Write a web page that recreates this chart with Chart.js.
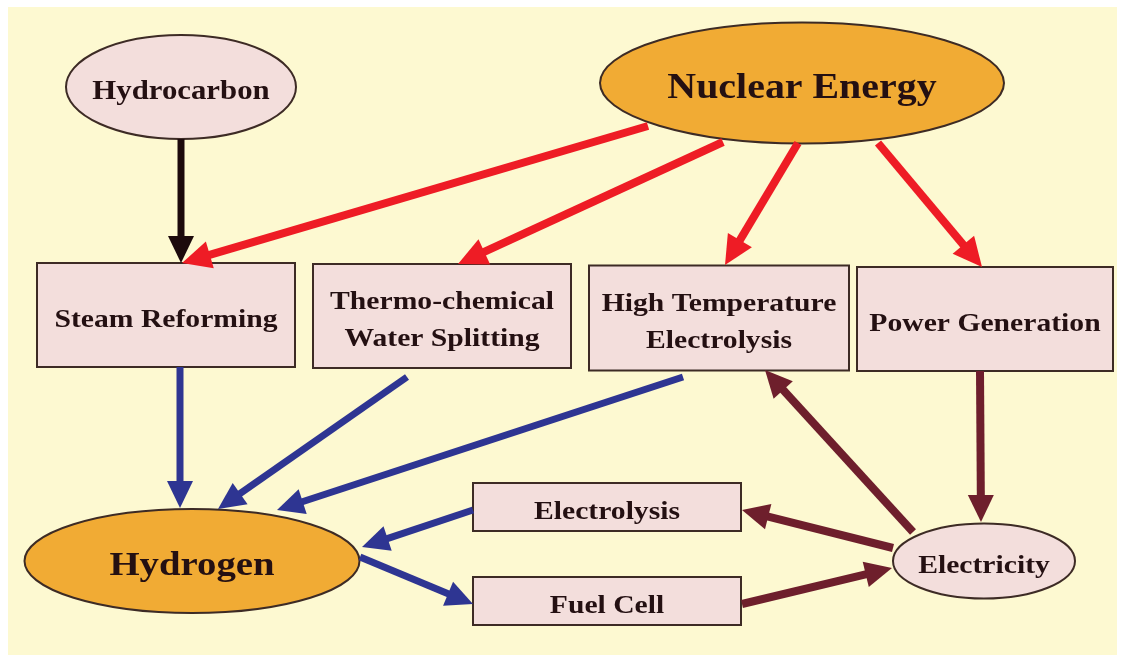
<!DOCTYPE html>
<html>
<head>
<meta charset="utf-8">
<script src="https://cdn.jsdelivr.net/npm/chart.js@4"></script>
<style>
  html, body { margin: 0; padding: 0; background: #fff; }
  #flow { display: block; }
</style>
</head>
<body>
<canvas id="flow" width="1125" height="661"></canvas>
<script>
// nodes of the diagram (centre of each node, in diagram units)
const nodeLabels = [
    'Hydrocarbon',
    'Nuclear Energy',
    'Steam Reforming',
    ['Thermo-chemical', 'Water Splitting'],
    ['High Temperature', 'Electrolysis'],
    'Power Generation',
    'Hydrogen',
    'Electrolysis',
    'Fuel Cell',
    'Electricity'
];
const nodeX = [181, 802, 166, 442, 719, 985, 192, 607, 607, 984];
const nodeY = [87, 83, 315, 316, 318, 319, 561, 507, 601, 561];

// arrows: start point, end point, kind of flow
const arrowFromX = [181, 648, 723, 798, 878, 180, 407, 683, 473, 360, 980, 913, 893, 742];
const arrowFromY = [139, 126, 142, 143, 143, 367, 377, 377, 510, 557, 371, 532, 548, 604];
const arrowToX   = [181, 182, 458, 725, 982, 180, 218, 277, 362, 473, 981, 765, 742, 892];
const arrowToY   = [263, 263, 264, 265, 267, 508, 509, 510, 547, 604, 522, 370, 510, 568];
const arrowKind  = ['feed', 'nuclear', 'nuclear', 'nuclear', 'nuclear',
                    'hydrogen', 'hydrogen', 'hydrogen', 'hydrogen', 'hydrogen',
                    'electric', 'electric', 'electric', 'electric'];

// look of nodes and arrows
const nodeStyle = [
    { shape: 'ellipse', w: 230, h: 104, fill: '#f3dedc', size: 27 },
    { shape: 'ellipse', w: 404, h: 121, fill: '#f1ab34', size: 35 },
    { shape: 'rect', w: 258, h: 104, fill: '#f3dedc', size: 26 },
    { shape: 'rect', w: 258, h: 104, fill: '#f3dedc', size: 26 },
    { shape: 'rect', w: 260, h: 105, fill: '#f3dedc', size: 26 },
    { shape: 'rect', w: 256, h: 104, fill: '#f3dedc', size: 26 },
    { shape: 'ellipse', w: 335, h: 104, fill: '#f1ab34', size: 34 },
    { shape: 'rect', w: 268, h: 48, fill: '#f3dedc', size: 26 },
    { shape: 'rect', w: 268, h: 48, fill: '#f3dedc', size: 26 },
    { shape: 'ellipse', w: 182, h: 75, fill: '#f3dedc', size: 26 }
];
const arrowStyle = {
    feed:     { color: '#1c0a0c', width: 7, head: 27, half: 13 },
    nuclear:  { color: '#ee1c25', width: 8, head: 29, half: 14 },
    hydrogen: { color: '#2e3592', width: 7, head: 27, half: 13 },
    electric: { color: '#6e1f2c', width: 8, head: 27, half: 13 }
};
const textColor = '#241012';
const borderColor = '#3d2b25';
const stretch = 1.14;

const ctx = document.getElementById('flow');

const diagramPlugin = {
    id: 'diagram',
    beforeDraw(chart) {
        const c = chart.ctx;
        const x = chart.scales.x, y = chart.scales.y;
        c.save();
        c.fillStyle = '#ffffff';
        c.fillRect(0, 0, chart.width, chart.height);
        c.fillStyle = '#fdf9d1';
        const x0 = x.getPixelForValue(8), x1 = x.getPixelForValue(1117);
        const y0 = y.getPixelForValue(7), y1 = y.getPixelForValue(655);
        c.fillRect(x0, y0, x1 - x0, y1 - y0);
        c.restore();
    },
    afterDatasetsDraw(chart) {
        const c = chart.ctx;
        const x = chart.scales.x, y = chart.scales.y;

        // nodes
        const nodes = chart.getDatasetMeta(0).data;
        nodes.forEach((pt, i) => {
            const s = nodeStyle[i];
            const w = x.getPixelForValue(s.w) - x.getPixelForValue(0);
            const h = Math.abs(y.getPixelForValue(s.h) - y.getPixelForValue(0));
            c.save();
            c.beginPath();
            if (s.shape === 'ellipse') {
                c.ellipse(pt.x, pt.y, w / 2, h / 2, 0, 0, Math.PI * 2);
            } else {
                c.rect(pt.x - w / 2, pt.y - h / 2, w, h);
            }
            c.fillStyle = s.fill;
            c.fill();
            c.lineWidth = 2;
            c.strokeStyle = borderColor;
            c.stroke();

            const lines = Array.isArray(nodeLabels[i]) ? nodeLabels[i] : [nodeLabels[i]];
            c.fillStyle = textColor;
            c.font = 'bold ' + s.size + 'px "Liberation Serif", "Times New Roman", serif';
            c.textAlign = 'center';
            c.textBaseline = 'alphabetic';
            const lh = 37;
            lines.forEach((t, k) => {
                const off = (k - (lines.length - 1) / 2) * lh + s.size * 0.33 + 3;
                c.save();
                c.translate(pt.x, pt.y + off);
                c.scale(stretch, 1);
                c.fillText(t, 0, 0);
                c.restore();
            });
            c.restore();
        });

        // arrows
        arrowKind.forEach((kind, i) => {
            const st = arrowStyle[kind];
            const a = chart.getDatasetMeta(1 + i).data;
            const p0 = a[0], p1 = a[1];
            const dx = p1.x - p0.x, dy = p1.y - p0.y;
            const len = Math.hypot(dx, dy);
            const ux = dx / len, uy = dy / len;
            const bx = p1.x - ux * st.head, by = p1.y - uy * st.head;
            c.save();
            c.strokeStyle = st.color;
            c.fillStyle = st.color;
            c.lineWidth = st.width;
            c.lineCap = 'butt';
            c.beginPath();
            c.moveTo(p0.x, p0.y);
            c.lineTo(bx + ux * 2, by + uy * 2);
            c.stroke();
            c.beginPath();
            c.moveTo(p1.x, p1.y);
            c.lineTo(bx - uy * st.half, by + ux * st.half);
            c.lineTo(bx + uy * st.half, by - ux * st.half);
            c.closePath();
            c.fill();
            c.restore();
        });
    }
};

const datasets = [{
    label: 'nodes',
    data: nodeX.map((v, i) => ({ x: v, y: nodeY[i] })),
    pointRadius: 0,
    showLine: false
}];
arrowKind.forEach((kind, i) => {
    datasets.push({
        label: kind,
        data: [{ x: arrowFromX[i], y: arrowFromY[i] }, { x: arrowToX[i], y: arrowToY[i] }],
        pointRadius: 0,
        borderWidth: 0,
        showLine: false
    });
});

new Chart(ctx, {
    type: 'scatter',
    data: { datasets: datasets },
    options: {
        responsive: false,
        animation: false,
        devicePixelRatio: 1,
        layout: { padding: 0 },
        plugins: {
            legend: { display: false },
            tooltip: { enabled: false }
        },
        scales: {
            x: { type: 'linear', min: 0, max: 1125, display: false },
            y: { type: 'linear', min: 0, max: 661, reverse: true, display: false }
        }
    },
    plugins: [diagramPlugin]
});
</script>
</body>
</html>
